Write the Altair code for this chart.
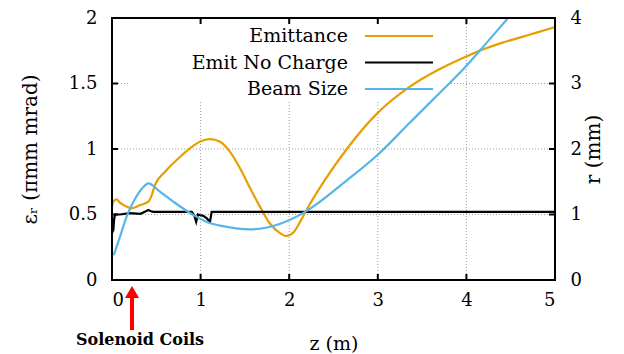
import altair as alt
import pandas as pd

# ---------------- data ----------------
emit_z = [0.0, 0.015, 0.05, 0.09, 0.18, 0.22, 0.32, 0.41, 0.45, 0.485, 0.6, 0.73, 0.88, 0.99,
          1.106, 1.22, 1.33, 1.445, 1.56, 1.67, 1.78, 1.90, 1.964, 2.05, 2.12, 2.2, 2.4, 2.65,
          2.99, 3.35, 3.7, 3.98, 4.17, 4.4, 4.6, 4.8, 5.0]
emit_v = [0.56, 0.598, 0.616, 0.59, 0.555, 0.547, 0.572, 0.598, 0.65, 0.725, 0.827, 0.916, 1.005,
          1.056, 1.075, 1.056, 0.98, 0.853, 0.70, 0.56, 0.433, 0.356, 0.336, 0.365, 0.44, 0.54,
          0.76, 1.0, 1.27, 1.47, 1.61, 1.70, 1.755, 1.81, 1.85, 1.89, 1.93]

nochg_z = [0.0, 0.015, 0.025, 0.035, 0.09, 0.2, 0.32, 0.37, 0.41, 0.44, 0.47, 0.90, 0.93, 0.95,
           0.97, 0.99, 1.03, 1.07, 1.106, 1.125, 5.0]
nochg_v = [0.36, 0.38, 0.47, 0.50, 0.50, 0.51, 0.505, 0.52, 0.535, 0.525, 0.52, 0.52, 0.49, 0.445,
           0.50, 0.496, 0.49, 0.47, 0.445, 0.52, 0.52]

beam_z = [0.02, 0.09, 0.166, 0.26, 0.354, 0.41, 0.54, 0.73, 0.92, 1.1, 1.22, 1.56, 1.9, 2.18,
          2.65, 2.99, 3.36, 3.7, 3.98, 4.17, 4.47, 4.7, 5.0]
beam_r = [0.38, 0.66, 0.97, 1.24, 1.42, 1.476, 1.35, 1.16, 0.99, 0.87, 0.83, 0.774, 0.86, 1.04,
          1.52, 1.9, 2.4, 2.86, 3.24, 3.53, 4.0, 4.36, 4.84]

x_ticks = [0, 1, 2, 3, 4, 5]
left_ticks = [0, 0.5, 1, 1.5, 2]
right_ticks = [0, 1, 2, 3, 4]
grid_x = [1, 2, 3, 4]
grid_y = [0.5, 1, 1.5]
grid_r = [1, 2, 3]
series_names = ["Emittance", "Emit No Charge", "Beam Size"]
series_colors = ["#E69F00", "#000000", "#56B4E9"]
coil_z = [0.226]
coil_label = "Solenoid Coils"

# ---------------- layout ----------------
W, H = 443, 262
FONT = "DejaVu Serif"

xscale = alt.Scale(domain=[0, 5], nice=False, zero=False)
yL = alt.Scale(domain=[0, 2], nice=False, zero=False)
yR = alt.Scale(domain=[0, 4], nice=False, zero=False)

x_axis = alt.Axis(values=x_ticks, format="~g", ticks=False, domain=False, grid=False,
                  labelPadding=11, labelFontSize=18, labelFont=FONT, labelColor="black",
                  title="z (m)", titleFont=FONT, titleFontSize=19, titleFontWeight="normal",
                  titleColor="black", titlePadding=25)


def X(field):
    return alt.X(field, type="quantitative", scale=xscale, axis=x_axis)


one = pd.DataFrame({"a": [0]})

emit_df = pd.DataFrame({"z": emit_z, "v": emit_v})
nochg_df = pd.DataFrame({"z": nochg_z, "v": nochg_v})
beam_df = pd.DataFrame({"z": beam_z, "r": beam_r})

grid_style = dict(color="#a0a0a0", strokeWidth=1, strokeDash=[1, 2])

vgrid = alt.Chart(pd.DataFrame({"z": grid_x})).mark_rule(**grid_style).encode(
    x=X("z"), y=alt.value(0), y2=alt.value(H))
hgrid = alt.Chart(pd.DataFrame({"g": grid_y})).mark_rule(**grid_style).encode(
    y=alt.Y("g:Q", scale=yL, axis=None), x=alt.value(0), x2=alt.value(W))

legend_box = alt.Chart(one).mark_rect(color="white").encode(
    x=alt.value(16), x2=alt.value(335), y=alt.value(0), y2=alt.value(82))

left_axis = alt.Axis(orient="left", values=left_ticks, format="~g", ticks=False,
                     domain=False, grid=False, labelPadding=15, labelFontSize=18,
                     labelFont=FONT, labelColor="black",
                     title="εᵣ (πmm mrad)", titleFont=FONT, titleFontSize=20,
                     titleFontWeight="normal", titleColor="black", titlePadding=28)

emit_line = alt.Chart(emit_df).mark_line(clip=True, strokeWidth=2.2, color=series_colors[0],
                                         interpolate="monotone").encode(
    x=X("z"), y=alt.Y("v:Q", scale=yL, axis=left_axis))
nochg_line = alt.Chart(nochg_df).mark_line(clip=True, strokeWidth=2.2, color=series_colors[1]).encode(
    x=X("z"), y=alt.Y("v:Q", scale=yL, axis=None))

beam_line = alt.Chart(beam_df).mark_line(clip=True, strokeWidth=2.2, color=series_colors[2],
                                         interpolate="monotone").encode(
    x=X("z"),
    y=alt.Y("r:Q", scale=yR,
            axis=alt.Axis(orient="right", values=right_ticks, format="~g", ticks=False,
                          domain=False, grid=False, labelPadding=15, labelFontSize=18,
                          labelFont=FONT, labelColor="black",
                          title="r (mm)", titleFont=FONT, titleFontSize=20, titleAngle=270,
                          titleFontWeight="normal", titleColor="black", titlePadding=22)),
)

# legend rows
legend_layers = []
row_y = [18, 44.5, 71]
for name, col, yy in zip(series_names, series_colors, row_y):
    legend_layers.append(alt.Chart(one).mark_text(
        text=name, align="right", baseline="middle", font=FONT, fontSize=19, color="black").encode(
        x=alt.value(236), y=alt.value(yy)))
    legend_layers.append(alt.Chart(one).mark_rule(color=col, strokeWidth=2.2).encode(
        x=alt.value(253), x2=alt.value(321), y=alt.value(yy)))

tick_style = dict(color="black", strokeWidth=2)
bot_ticks = alt.Chart(pd.DataFrame({"z": grid_x})).mark_rule(**tick_style).encode(
    x=X("z"), y=alt.value(H - 6), y2=alt.value(H))
top_ticks = alt.Chart(pd.DataFrame({"z": grid_x})).mark_rule(**tick_style).encode(
    x=X("z"), y=alt.value(0), y2=alt.value(6))
left_tk = alt.Chart(pd.DataFrame({"g": grid_y})).mark_rule(**tick_style).encode(
    y=alt.Y("g:Q", scale=yL, axis=None), x=alt.value(0), x2=alt.value(6))
right_tk = alt.Chart(pd.DataFrame({"g": grid_r})).mark_rule(**tick_style).encode(
    y=alt.Y("g:Q", scale=yR, axis=None), x=alt.value(W - 6), x2=alt.value(W))

frame = alt.Chart(one).mark_rect(fillOpacity=0, stroke="black", strokeWidth=2).encode(
    x=alt.value(0), x2=alt.value(W), y=alt.value(0), y2=alt.value(H))

coil_df = pd.DataFrame({"z": coil_z})
shaft = alt.Chart(coil_df).mark_rule(color="red", strokeWidth=4).encode(
    x=X("z"), y=alt.value(H + 18), y2=alt.value(H + 50))
head = alt.Chart(coil_df).mark_point(shape="triangle-up", size=200, filled=True, color="red",
                                      opacity=1).encode(x=X("z"), y=alt.value(H + 12))
coil_text = alt.Chart(one).mark_text(text=coil_label, align="center", baseline="middle",
                                     font=FONT, fontSize=16, fontWeight="bold", color="black").encode(
    x=alt.value(28), y=alt.value(H + 60))

chart = alt.layer(
    vgrid, hgrid, legend_box, emit_line, nochg_line, beam_line, *legend_layers,
    bot_ticks, top_ticks, left_tk, right_tk, frame, shaft, head, coil_text,
).resolve_scale(y="independent").resolve_axis(y="independent").properties(
    width=W, height=H,
    autosize=alt.AutoSizeParams(type="none"),
    padding={"left": 104, "top": 10, "right": 61, "bottom": 74},
).configure_view(stroke=None)

chart.save("out.html", embed_options={"renderer": "svg", "actions": False})
